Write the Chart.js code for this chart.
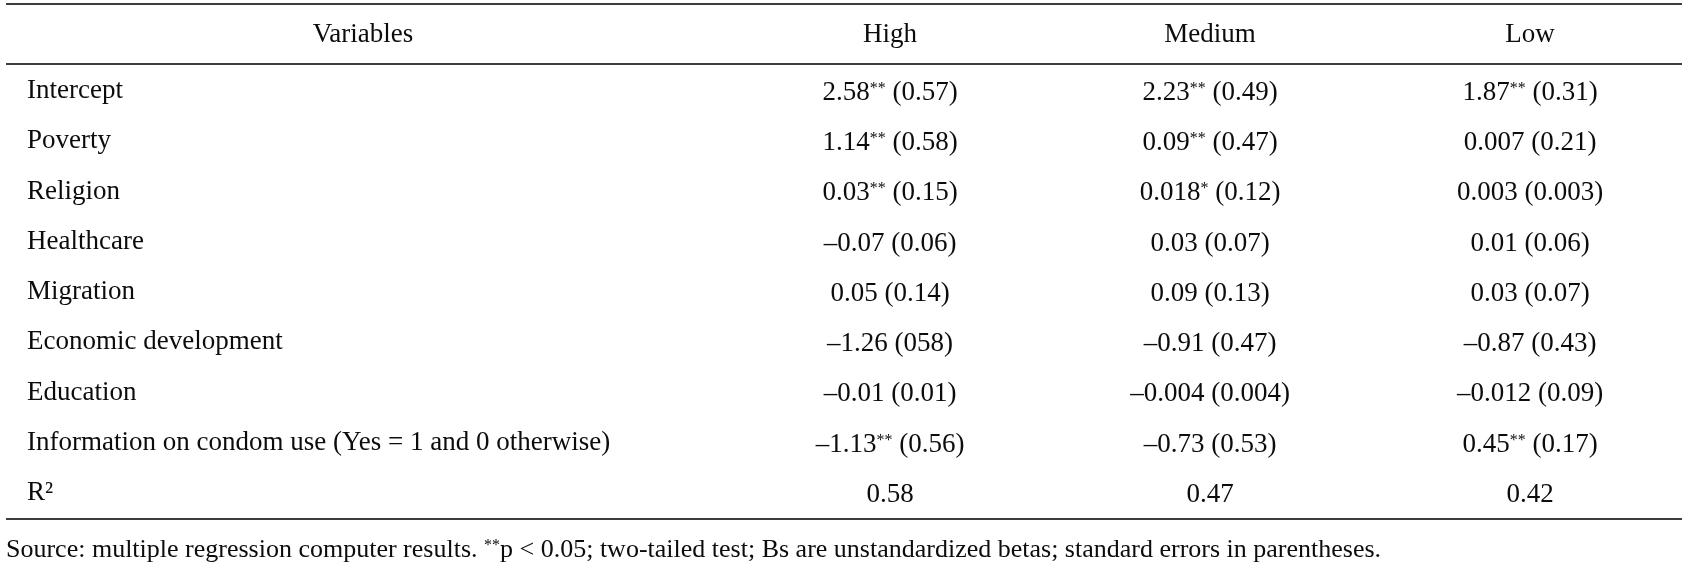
<!DOCTYPE html>
<html>
<head>
<meta charset="utf-8">
<script src="https://cdn.jsdelivr.net/npm/chart.js@4.4.1/dist/chart.umd.min.js"></script>
<style>
    html, body { margin: 0; padding: 0; background: #fff; }
    #wrap { width: 1682px; height: 565px; position: relative; }
</style>
</head>
<body>
<div id="wrap"><canvas id="regressionTable"></canvas></div>
<script>
// table content
const variables = [
    "Intercept", "Poverty", "Religion", "Healthcare", "Migration",
    "Economic development", "Education",
    "Information on condom use (Yes = 1 and 0 otherwise)", "R²"
];
const groups = ["High", "Medium", "Low"];
const firstHeader = "Variables";

const highCoef = ["2.58", "1.14", "0.03", "–0.07", "0.05", "–1.26", "–0.01", "–1.13", "0.58"];
const highSig  = ["**", "**", "**", "", "", "", "", "**", ""];
const highSe   = ["0.57", "0.58", "0.15", "0.06", "0.14", "058", "0.01", "0.56", null];

const mediumCoef = ["2.23", "0.09", "0.018", "0.03", "0.09", "–0.91", "–0.004", "–0.73", "0.47"];
const mediumSig  = ["**", "**", "*", "", "", "", "", "", ""];
const mediumSe   = ["0.49", "0.47", "0.12", "0.07", "0.13", "0.47", "0.004", "0.53", null];

const lowCoef = ["1.87", "0.007", "0.003", "0.01", "0.03", "–0.87", "–0.012", "0.45", "0.42"];
const lowSig  = ["**", "", "", "", "", "", "", "**", ""];
const lowSe   = ["0.31", "0.21", "0.003", "0.06", "0.07", "0.43", "0.09", "0.17", null];

const footnoteStart = "Source: multiple regression computer results. ";
const footnoteSig = "**";
const footnoteEnd = "p < 0.05; two-tailed test; Bs are unstandardized betas; standard errors in parentheses.";

const columns = [
    { coef: highCoef, sig: highSig, se: highSe },
    { coef: mediumCoef, sig: mediumSig, se: mediumSe },
    { coef: lowCoef, sig: lowSig, se: lowSe }
];

const FONT = '"Liberation Serif", "Times New Roman", serif';
const TEXT_COLOR = "#0c0c0c";
const RULE_COLOR = "#3c3c3c";

// draw text pieces (some superscript) centred or left aligned at x
function drawRich(ctx, parts, x, y, size, align) {
    const supSize = Math.round(size * 0.6);
    let total = 0;
    parts.forEach(p => {
        ctx.font = `${p.sup ? supSize : size}px ${FONT}`;
        p.w = ctx.measureText(p.t).width;
        total += p.w;
    });
    let cx = align === "center" ? x - total / 2 : x;
    const baseline = y + size * 0.33;
    ctx.textAlign = "left";
    ctx.textBaseline = "alphabetic";
    parts.forEach(p => {
        ctx.font = `${p.sup ? supSize : size}px ${FONT}`;
        ctx.fillText(p.t, cx, p.sup ? baseline - size * 0.26 : baseline);
        cx += p.w;
    });
}

const tablePlugin = {
    id: "tablePlugin",
    afterDraw(chart) {
        const ctx = chart.ctx;
        const area = chart.chartArea;
        const xScale = chart.scales.x;
        const topRule = 4;
        const headRule = area.top - 2;
        const bottomRule = area.bottom + 1;
        ctx.save();
        ctx.fillStyle = TEXT_COLOR;

        // rules
        ctx.strokeStyle = RULE_COLOR;
        ctx.lineWidth = 2.2;
        [topRule, headRule, bottomRule].forEach(y => {
            ctx.beginPath();
            ctx.moveTo(6, y);
            ctx.lineTo(chart.width, y);
            ctx.stroke();
        });

        // header row
        const headY = (topRule + headRule) / 2 - 1;
        drawRich(ctx, [{ t: firstHeader }], 363, headY, 27, "center");
        groups.forEach((g, i) => {
            drawRich(ctx, [{ t: g }], xScale.getPixelForValue(i), headY, 27, "center");
        });

        // cells
        columns.forEach((col, d) => {
            const meta = chart.getDatasetMeta(d);
            meta.data.forEach((pt, i) => {
                const parts = [{ t: col.coef[i] }];
                if (col.sig[i]) parts.push({ t: col.sig[i], sup: true });
                if (col.se[i] !== null) parts.push({ t: " (" + col.se[i] + ")" });
                drawRich(ctx, parts, pt.x, pt.y, 27, "center");
            });
        });

        // footnote
        drawRich(ctx, [
            { t: footnoteStart },
            { t: footnoteSig, sup: true },
            { t: footnoteEnd }
        ], 6, bottomRule + 29, 26, "left");

        ctx.restore();
    }
};

const ctx = document.getElementById("regressionTable").getContext("2d");
const table = new Chart(ctx, {
    type: "scatter",
    data: {
        datasets: columns.map((col, d) => ({
            label: groups[d],
            data: variables.map(v => ({ x: groups[d], y: v })),
            pointRadius: 0,
            pointHoverRadius: 0
        }))
    },
    options: {
        responsive: true,
        maintainAspectRatio: false,
        animation: false,
        events: [],
        layout: { padding: { left: 27, right: 152, top: 66, bottom: 47 } },
        plugins: {
            legend: { display: false },
            tooltip: { enabled: false }
        },
        scales: {
            x: {
                type: "category",
                labels: groups,
                offset: false,
                display: false
            },
            y: {
                type: "category",
                labels: variables,
                offset: true,
                grid: { display: false, drawTicks: false },
                border: { display: false },
                ticks: {
                    autoSkip: false,
                    crossAlign: "far",
                    padding: 0,
                    color: TEXT_COLOR,
                    font: { family: FONT, size: 27 }
                },
                afterFit: scale => { scale.width = 863; }
            }
        }
    },
    plugins: [tablePlugin]
});
</script>
</body>
</html>
